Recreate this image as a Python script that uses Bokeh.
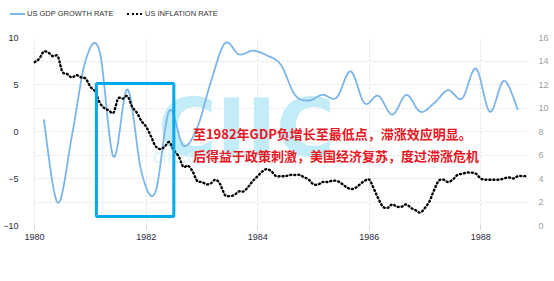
import numpy as np
import pandas as pd
from bokeh.plotting import figure
from bokeh.layouts import column
from bokeh.models import (LinearAxis, Range1d, FixedTicker, Grid, Div,
                          BoxAnnotation, Label, DatetimeTickFormatter)
from bokeh.embed import file_html
from bokeh.resources import INLINE

# ---------------- data ----------------
gdp_label = "US GDP GROWTH RATE"
infl_label = "US INFLATION RATE"

# quarterly US GDP growth rate (annualised, %), 1980Q1 .. 1988Q3
gdp_first_date = "1980-03-01"
gdp_values = [1.3, -7.6, -0.5, 7.6,
              8.6, -2.7, 4.5, -4.3,
              -6.5, 2.2, -1.5, 0.4,
              5.3, 9.4, 8.2, 8.6,
              8.1, 7.1, 3.9, 3.3,
              3.9, 3.6, 6.4, 3.0,
              3.8, 1.8, 3.9, 2.1,
              3.0, 4.4, 3.5, 6.7,
              2.1, 5.4, 2.3]

# monthly US inflation rate (%), Jan 1980 .. Nov 1988
infl_first_date = "1980-01-01"
infl_values = [13.9, 14.2, 14.8, 14.7, 14.4, 14.4, 13.1, 12.9, 12.6, 12.8, 12.6, 12.5,
               11.8, 11.4, 10.5, 10.0, 9.8, 9.6, 10.8, 10.8, 11.0, 10.1, 9.6, 8.9,
               8.4, 7.6, 6.8, 6.5, 6.7, 7.1, 6.4, 5.9, 5.0, 5.1, 4.6, 3.8,
               3.7, 3.5, 3.6, 3.9, 3.5, 2.6, 2.5, 2.6, 2.9, 2.9, 3.3, 3.8,
               4.2, 4.6, 4.8, 4.6, 4.2, 4.2, 4.2, 4.3, 4.3, 4.3, 4.1, 3.9,
               3.5, 3.5, 3.7, 3.7, 3.8, 3.8, 3.6, 3.3, 3.1, 3.2, 3.5, 3.8,
               3.9, 3.1, 2.3, 1.6, 1.5, 1.8, 1.6, 1.6, 1.8, 1.5, 1.3, 1.1,
               1.5, 2.1, 3.0, 3.8, 3.9, 3.7, 3.9, 4.3, 4.4, 4.5, 4.5, 4.4,
               4.0, 3.9, 3.9, 3.9, 3.9, 4.0, 4.1, 4.0, 4.2, 4.2, 4.2]

year_ticks = [1980, 1982, 1984, 1986, 1988]
left_ticks = [-10, -5, 0, 5, 10]
right_ticks = [0, 2, 4, 6, 8, 10, 12, 14, 16]

note_line1 = "至1982年GDP负增长至最低点，滞涨效应明显。"
note_line2 = "后得益于政策刺激，美国经济复苏，度过滞涨危机"
source_text = "SOURCE: TRADINGECONOMICS.COM"
watermark_big = "CIIC"
watermark_small = "ciic.com.cn"

# ---------------- helpers ----------------
EPOCH = pd.Timestamp("1970-01-01")


def ms(ts):
    return (pd.Timestamp(ts) - EPOCH) / pd.Timedelta(milliseconds=1)


def smooth(xs, ys, n=12):
    """Catmull-Rom spline rendering through the data points."""
    x = np.asarray(xs, float)
    y = np.asarray(ys, float)
    xp = np.concatenate([[x[0]], x, [x[-1]]])
    yp = np.concatenate([[y[0]], y, [y[-1]]])
    t = np.linspace(0, 1, n, endpoint=False)
    ox, oy = [], []
    for i in range(len(x) - 1):
        for arr, out in ((xp, ox), (yp, oy)):
            p0, p1, p2, p3 = arr[i], arr[i + 1], arr[i + 2], arr[i + 3]
            out.extend(0.5 * (2 * p1 + (-p0 + p2) * t
                              + (2 * p0 - 5 * p1 + 4 * p2 - p3) * t ** 2
                              + (-p0 + 3 * p1 - 3 * p2 + p3) * t ** 3))
    ox.append(x[-1])
    oy.append(y[-1])
    return ox, oy


gdp_dates = pd.date_range(gdp_first_date, periods=len(gdp_values), freq="3MS")
infl_dates = pd.date_range(infl_first_date, periods=len(infl_values), freq="MS")
gdp_x = [ms(d) for d in gdp_dates]
infl_x = [ms(d) for d in infl_dates]

GDP_COLOR = "#7cb5ec"
GDP_STYLE = dict(line_color=GDP_COLOR, line_width=1.8)
INF_STYLE = dict(line_color="black", line_width=2.4, line_dash="1 3", line_cap="round")

# ---------------- legend strip (HTML) ----------------
legend_html = (
    '<div style="position:relative;width:554px;height:28px;margin:0;padding:0;'
    'font-family:\'Liberation Sans\',Arial,sans-serif;font-size:7.5px;color:#333333;">'
    '<span style="position:absolute;left:10px;top:13px;width:15px;height:0;'
    f'border-top:2px solid {GDP_COLOR};"></span>'
    '<span style="position:absolute;left:27px;top:10px;line-height:8px;white-space:nowrap;">'
    f'{gdp_label}</span>'
    '<span style="position:absolute;left:127px;top:12.5px;width:15px;height:0;'
    'border-top:2.5px dotted #000000;"></span>'
    '<span style="position:absolute;left:145px;top:10px;line-height:8px;white-space:nowrap;">'
    f'{infl_label}</span>'
    '</div>'
)
legend_div = Div(text=legend_html, width=554, height=28, margin=0)

# ---------------- main chart ----------------
p = figure(width=554, height=253, output_backend="svg", toolbar_location=None,
           x_axis_type="datetime",
           x_range=Range1d(ms("1979-12-25"), ms("1988-11-22")),
           y_range=Range1d(-10, 10),
           min_border_left=31, min_border_right=24, min_border_top=9, min_border_bottom=56)
p.margin = 0
p.outline_line_color = None
p.background_fill_color = "white"
p.border_fill_color = "white"
p.extra_y_ranges = {"right": Range1d(0, 16)}

grid_color = "#e0e0e0"
p.ygrid.visible = False
p.xgrid.ticker = FixedTicker(ticks=[ms(f"{y}-01-01") for y in year_ticks])
p.xgrid.grid_line_color = grid_color
p.xgrid.grid_line_dash = "2 2"
rgrid = Grid(dimension=1, y_range_name="right", ticker=FixedTicker(ticks=right_ticks),
             grid_line_color=grid_color, grid_line_dash="2 2")
p.add_layout(rgrid)

# watermark (under the lines)
p.add_layout(Label(x=ms("1982-03-20"), y=0.32, text=watermark_big, text_font="DejaVu Sans",
                   text_font_style="bold", text_font_size="80px", text_color="#c2ecf7",
                   text_baseline="alphabetic", level="underlay"))
p.add_layout(Label(x=ms("1982-02-09"), y=-2.55, text=watermark_small, text_font="Open Sans",
                   text_font_size="20px", text_color="#ddf4fa", text_baseline="middle",
                   level="underlay"))

gx, gy = smooth(gdp_x, gdp_values)
r_gdp = p.line(gx, gy, **GDP_STYLE)
ix, iy = smooth(infl_x, infl_values)
r_inf = p.line(ix, iy, y_range_name="right", **INF_STYLE)

# axes
xa = p.xaxis[0]
xa.ticker = FixedTicker(ticks=[ms(f"{y}-01-01") for y in year_ticks])
xa.formatter = DatetimeTickFormatter(years="%Y", months="%Y", days="%Y", hours="%Y",
                                     hourmin="%Y", minutes="%Y", minsec="%Y", seconds="%Y",
                                     milliseconds="%Y", microseconds="%Y")
xa.axis_line_color = None
xa.major_tick_line_color = "#c8d2e0"
xa.major_tick_in = 0
xa.major_tick_out = 4
xa.minor_tick_line_color = None
xa.major_label_standoff = 4
xa.major_label_text_font = "Liberation Sans"
xa.major_label_text_font_size = "9px"
xa.major_label_text_color = "#2b2b3f"

ya = p.yaxis[0]
ya.ticker = FixedTicker(ticks=left_ticks)
ya.axis_line_color = None
ya.major_tick_line_color = None
ya.minor_tick_line_color = None
ya.major_label_standoff = 9
ya.major_label_text_font = "Liberation Sans"
ya.major_label_text_font_size = "9px"
ya.major_label_text_color = "#2b2b3f"

ra = LinearAxis(y_range_name="right", ticker=FixedTicker(ticks=right_ticks))
ra.axis_line_color = None
ra.major_tick_line_color = None
ra.minor_tick_line_color = None
ra.major_label_standoff = 2
ra.major_label_text_font = "Liberation Sans"
ra.major_label_text_font_size = "9px"
ra.major_label_text_color = "#a0a0a0"
p.add_layout(ra, "right")

# highlight box
p.add_layout(BoxAnnotation(left=ms("1981-02-09"), right=ms("1982-07-01"), top=5.1, bottom=-9.04,
                           fill_alpha=0, line_color="#00a9ec", line_alpha=1.0, line_width=3))

# notes
for txt, yv in ((note_line1, -0.21), (note_line2, -2.6)):
    p.add_layout(Label(x=ms("1982-11-03"), y=yv, text=txt, text_font="Noto Sans CJK SC",
                       text_font_style="bold", text_font_size="13px", text_color="#e8171f",
                       text_baseline="middle", text_align="left"))

p.add_layout(Label(x=ms("1987-03-25"), y=-13.78, text=source_text, text_font="Liberation Sans",
                   text_font_size="6.5px", text_color="#8c8c8c", text_baseline="middle",
                   text_align="left"))

layout = column(legend_div, p, spacing=0)
open("out.html", "w").write(file_html(layout, INLINE))
